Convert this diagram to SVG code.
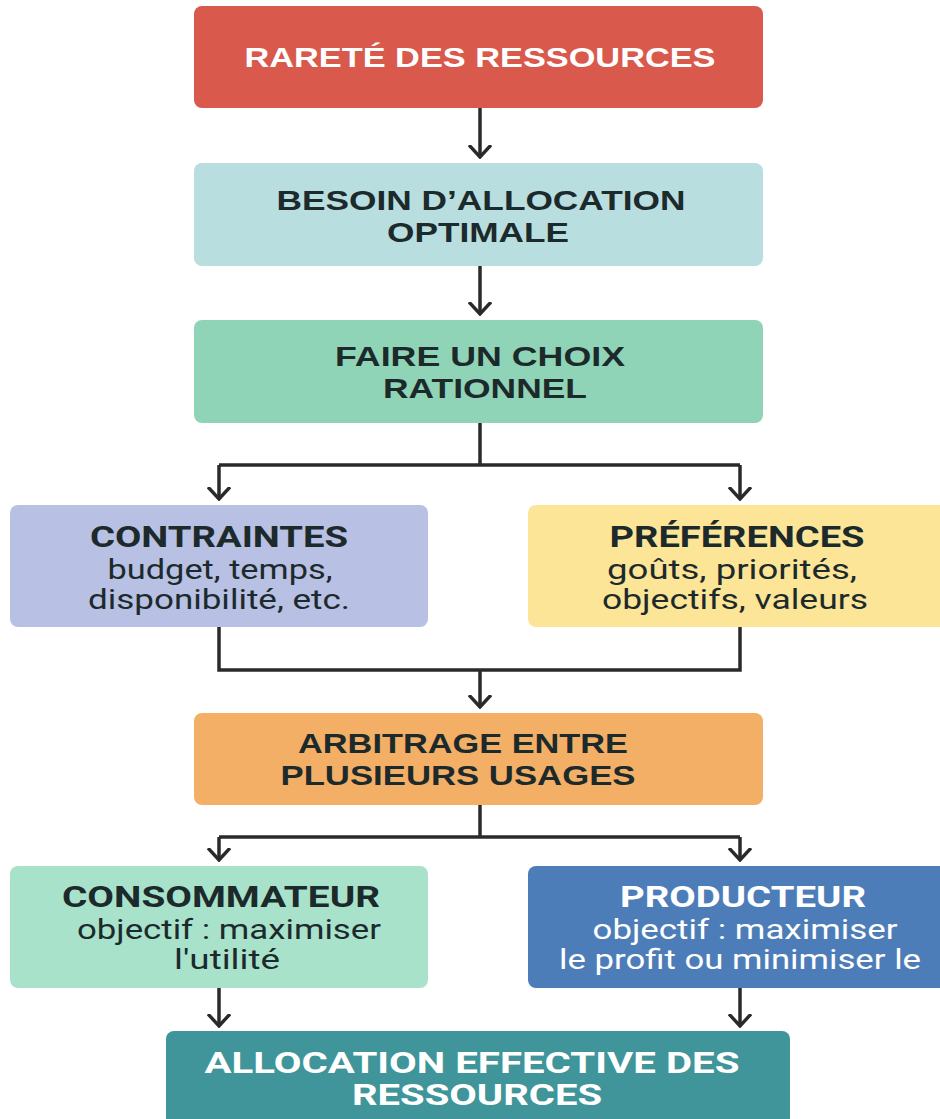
<svg xmlns="http://www.w3.org/2000/svg" width="940" height="1119" viewBox="0 0 940 1119">
<defs>
<style>
.box{stroke:none}
.t{font-family:"Liberation Sans",Arial,sans-serif;font-weight:bold;font-size:28px;text-anchor:middle}
.h{font-family:"Roboto","Liberation Sans",sans-serif;font-weight:bold;font-size:30px;text-anchor:middle}
.b{font-family:"Roboto","Liberation Sans",sans-serif;font-size:28px;text-anchor:middle}
.dk{fill:#1c2a2c}
.wt{fill:#ffffff}
.c{fill:none;stroke:#2a2a2a;stroke-width:3.5;stroke-linejoin:miter}
</style>
<marker id="ar" viewBox="0 0 14 24" refX="12" refY="12" markerWidth="14" markerHeight="24" markerUnits="userSpaceOnUse" orient="auto">
<path d="M0,1 L12,12 L0,23" fill="none" stroke="#2a2a2a" stroke-width="3.4"/>
</marker>
</defs>
<rect width="940" height="1119" fill="#ffffff"/>
<g id="connectors">
<path class="c" d="M480,108 V157" marker-end="url(#ar)"/>
<path class="c" d="M480,266 V314" marker-end="url(#ar)"/>
<path class="c" d="M480,423 V465"/>
<path class="c" d="M219,465 H740"/>
<path class="c" d="M219,465 V499" marker-end="url(#ar)"/>
<path class="c" d="M740,465 V499" marker-end="url(#ar)"/>
<path class="c" d="M219,627 V670 H740 V627"/>
<path class="c" d="M480,670 V707" marker-end="url(#ar)"/>
<path class="c" d="M480,805 V837"/>
<path class="c" d="M219,837 H740"/>
<path class="c" d="M219,837 V860" marker-end="url(#ar)"/>
<path class="c" d="M740,837 V860" marker-end="url(#ar)"/>
<path class="c" d="M219,988 V1026" marker-end="url(#ar)"/>
<path class="c" d="M740,988 V1026" marker-end="url(#ar)"/>
</g>
<g id="n1">
<rect class="box" x="194" y="6" width="569" height="102" rx="8" fill="#d95a4d"/>
<text class="t wt" x="480" y="67" textLength="471" lengthAdjust="spacingAndGlyphs">RARETÉ DES RESSOURCES</text>
</g>
<g id="n2">
<rect class="box" x="194" y="163" width="569" height="103" rx="8" fill="#b9dee0"/>
<text class="t dk" x="481" y="210" textLength="409" lengthAdjust="spacingAndGlyphs">BESOIN D’ALLOCATION</text>
<text class="t dk" x="478" y="242" textLength="182" lengthAdjust="spacingAndGlyphs">OPTIMALE</text>
</g>
<g id="n3">
<rect class="box" x="194" y="320" width="569" height="103" rx="8" fill="#8fd4b6"/>
<text class="t dk" x="480" y="366" textLength="290" lengthAdjust="spacingAndGlyphs">FAIRE UN CHOIX</text>
<text class="t dk" x="485" y="398" textLength="204" lengthAdjust="spacingAndGlyphs">RATIONNEL</text>
</g>
<g id="n4">
<rect class="box" x="10" y="505" width="418" height="122" rx="8" fill="#b8c0e3"/>
<text class="h dk" x="219" y="547" textLength="258" lengthAdjust="spacingAndGlyphs">CONTRAINTES</text>
<text class="b dk" x="220" y="579" textLength="225" lengthAdjust="spacingAndGlyphs">budget, temps,</text>
<text class="b dk" x="219" y="609" textLength="262" lengthAdjust="spacingAndGlyphs">disponibilité, etc.</text>
</g>
<g id="n5">
<rect class="box" x="528" y="505" width="420" height="122" rx="8" fill="#fce597"/>
<text class="h dk" x="737" y="547" textLength="255" lengthAdjust="spacingAndGlyphs">PRÉFÉRENCES</text>
<text class="b dk" x="732" y="579" textLength="250" lengthAdjust="spacingAndGlyphs">goûts, priorités,</text>
<text class="b dk" x="735" y="609" textLength="266" lengthAdjust="spacingAndGlyphs">objectifs, valeurs</text>
</g>
<g id="n6">
<rect class="box" x="194" y="713" width="569" height="92" rx="8" fill="#f4af66"/>
<text class="t dk" x="463" y="753" textLength="330" lengthAdjust="spacingAndGlyphs">ARBITRAGE ENTRE</text>
<text class="t dk" x="458" y="785" textLength="355" lengthAdjust="spacingAndGlyphs">PLUSIEURS USAGES</text>
</g>
<g id="n7">
<rect class="box" x="10" y="866" width="418" height="122" rx="8" fill="#a8e2cb"/>
<text class="h dk" x="221" y="907" textLength="318" lengthAdjust="spacingAndGlyphs">CONSOMMATEUR</text>
<text class="b dk" x="229" y="939" textLength="304" lengthAdjust="spacingAndGlyphs">objectif : maximiser</text>
<text class="b dk" x="227" y="969" textLength="106" lengthAdjust="spacingAndGlyphs">l'utilité</text>
</g>
<g id="n8">
<rect class="box" x="528" y="866" width="420" height="122" rx="8" fill="#4d7db8"/>
<text class="h wt" x="743" y="907" textLength="246" lengthAdjust="spacingAndGlyphs">PRODUCTEUR</text>
<text class="b wt" x="745" y="939" textLength="305" lengthAdjust="spacingAndGlyphs">objectif : maximiser</text>
<text class="b wt" x="740" y="969" textLength="362" lengthAdjust="spacingAndGlyphs">le profit ou minimiser le</text>
</g>
<g id="n9">
<rect class="box" x="166" y="1031" width="624" height="100" rx="8" fill="#3f9599"/>
<text class="h wt" x="472" y="1073" textLength="535" lengthAdjust="spacingAndGlyphs">ALLOCATION EFFECTIVE DES</text>
<text class="h wt" x="477" y="1105" textLength="250" lengthAdjust="spacingAndGlyphs">RESSOURCES</text>
</g>
</svg>
